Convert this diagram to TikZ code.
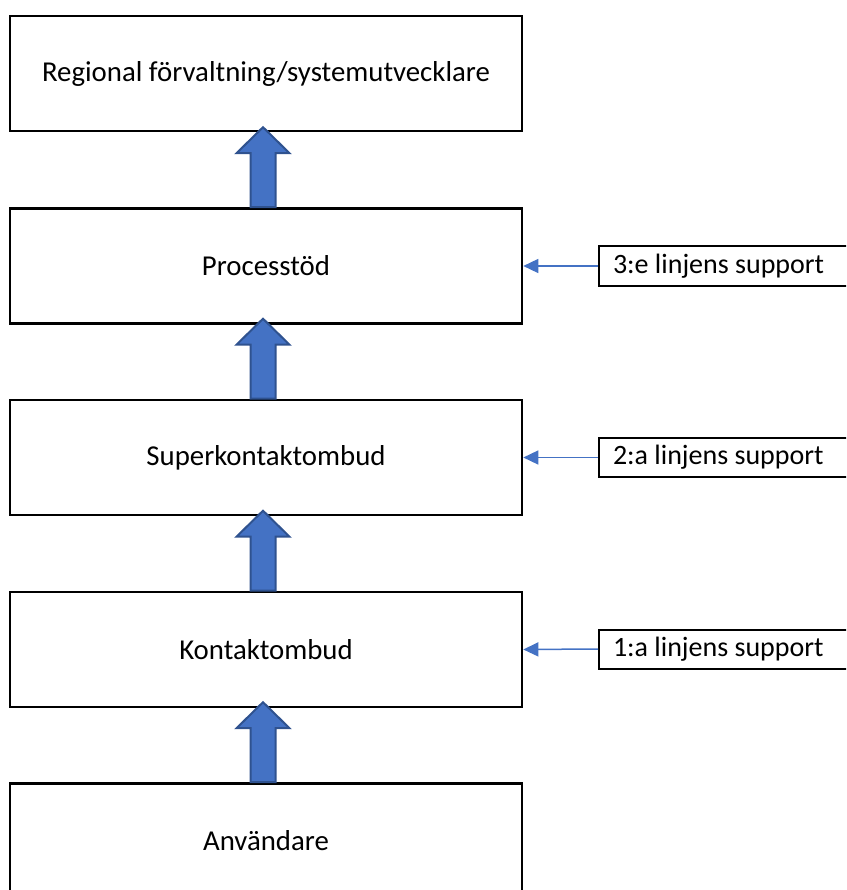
\documentclass[tikz,border=0pt]{standalone}
\usepackage{fontspec}
\setmainfont{Carlito}
\usetikzlibrary{arrows.meta,calc}
\definecolor{arrfill}{HTML}{4472C4}
\definecolor{arrline}{HTML}{2F528F}
\tikzset{
  mainbox/.style={draw=black, line width=2.6pt, minimum width=512pt, minimum height=115pt, inner sep=0pt, font=\fontsize{28.8}{34}\selectfont},
  labelbox/.style={draw=black, line width=2pt, anchor=west, minimum height=39pt, text width=236pt, inner xsep=14pt, inner ysep=0pt, align=flush left, font=\fontsize{28}{34}\selectfont},
  blockarrow/.style={fill=arrfill, draw=arrline, line width=2pt, line join=miter},
  thinarrow/.style={draw=arrfill, line width=1.5pt, -{Triangle[length=15pt,width=14pt]}}
}
\begin{document}
\begin{tikzpicture}[x=1pt,y=-1pt]
\useasboundingbox (0,0) rectangle (846,890);
\clip (0,0) rectangle (846,890);
\node[mainbox] (b1) at (266,73.5) {Regional förvaltning/systemutvecklare};
\node[mainbox] (b2) at (266,266) {Processtöd};
\node[mainbox] (b3) at (266,457.5) {Superkontaktombud};
\node[mainbox] (b4) at (266,649.5) {Kontaktombud};
\node[mainbox] (b5) at (266,841) {Användare};
\node[labelbox] (l3) at (598,266) {3:e linjens support};
\node[labelbox] (l2) at (598,457.5) {2:a linjens support};
\node[labelbox] (l1) at (598,649) {1:a linjens support};
\foreach \lo in {b2,b3,b4,b5}{
  \draw[blockarrow] ($(\lo.north)+(-3,0)$) ++(-12.5,0) -- ++(0,-54) -- ++(-14,0) -- ++(26.5,-26) -- ++(26.5,26) -- ++(-14,0) -- ++(0,54) -- cycle;
}
\draw[thinarrow] (l3.west) -- (b2.east);
\draw[thinarrow] (l2.west) -- (b3.east);
\draw[thinarrow] (l1.west) -- (b4.east);
\end{tikzpicture}
\end{document}
